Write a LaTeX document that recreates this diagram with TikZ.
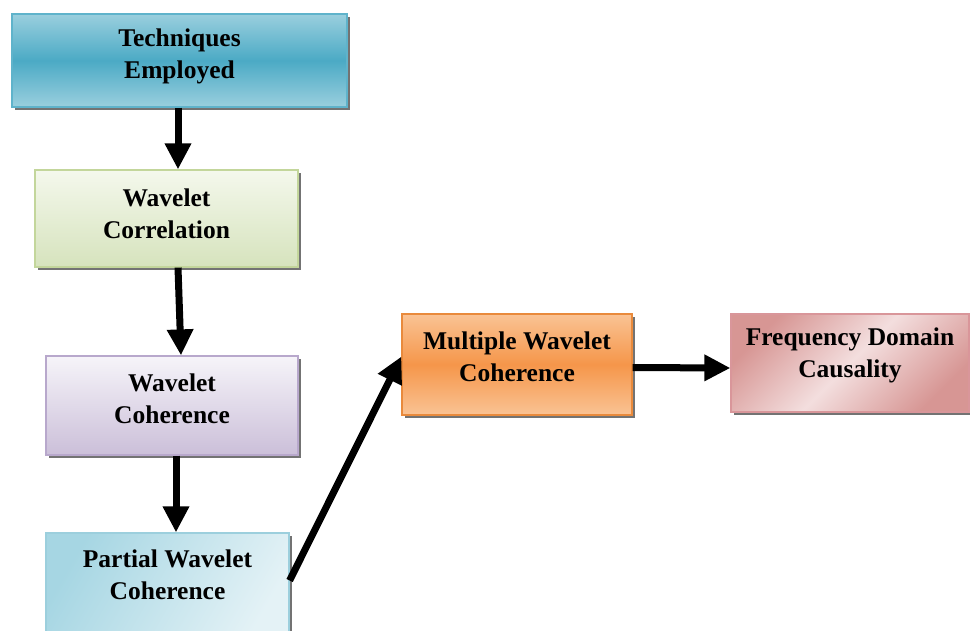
\documentclass[tikz,border=0pt]{standalone}
\usepackage{fontspec}
\setmainfont{Liberation Serif}
\usetikzlibrary{arrows.meta,shadows}
\definecolor{blueA}{HTML}{9ACFDE}
\definecolor{blueB}{HTML}{4BAAC5}
\definecolor{blueE}{HTML}{5FB3CB}
\definecolor{greenA}{HTML}{F4F8EC}
\definecolor{greenB}{HTML}{D6E3BD}
\definecolor{greenE}{HTML}{C3D69B}
\definecolor{lavA}{HTML}{F6F4F9}
\definecolor{lavB}{HTML}{CBBFD9}
\definecolor{lavE}{HTML}{B8A8CC}
\definecolor{cyanA}{HTML}{A6D6E3}
\definecolor{cyanB}{HTML}{E4F2F6}
\definecolor{cyanE}{HTML}{9CCFDD}
\definecolor{orA}{HTML}{FAC394}
\definecolor{orB}{HTML}{F5964A}
\definecolor{orE}{HTML}{E98A3C}
\definecolor{pkA}{HTML}{D79694}
\definecolor{pkB}{HTML}{F3DEDE}
\definecolor{pkE}{HTML}{D9969A}
\tikzset{
  box/.style={draw, line width=1.2pt, inner sep=0pt,
    drop shadow={shadow xshift=2.5pt, shadow yshift=-2.5pt, fill=black!55, opacity=1}},
  lbl/.style={font=\fontsize{25.5}{32}\selectfont\bfseries, align=center, inner sep=0pt},
  arr/.style={line width=7pt, -{Triangle[length=26pt,width=25pt]}}
}
\begin{document}
\begin{tikzpicture}[x=1pt,y=-1pt]
\useasboundingbox (0,0) rectangle (970,630);
% boxes
\node[box, draw=blueE, top color=blueA, bottom color=blueA, middle color=blueB,
  minimum width=335pt, minimum height=93pt] (b1) at (179.5,60.5) {};
\node[box, draw=greenE, top color=greenA, bottom color=greenB,
  minimum width=263pt, minimum height=97pt] (b2) at (166.5,218.5) {};
\node[box, draw=lavE, top color=lavA, bottom color=lavB,
  minimum width=252pt, minimum height=99pt] (b3) at (172,405.5) {};
\node[box, draw=cyanE, left color=cyanA, right color=cyanB, shading angle=60,
  minimum width=243pt, minimum height=107pt] (b4) at (167.5,586.5) {};
\node[box, draw=orE, top color=orA, bottom color=orA, middle color=orB,
  minimum width=230pt, minimum height=101pt] (b5) at (517,364.5) {};
\node[box, draw=pkE, top color=pkA, bottom color=pkA, middle color=pkB, shading angle=45,
  minimum width=238pt, minimum height=98pt] (b6) at (850,363) {};
% labels
\node[lbl] (t1) at (179.5,56) {Techniques\\Employed};
\node[lbl] (t2) at (166.5,214) {Wavelet\\Correlation};
\node[lbl] (t3) at (172,399) {Wavelet\\Coherence};
\node[lbl] (t4) at (167.5,575) {Partial Wavelet\\Coherence};
\node[lbl] (t5) at (517,357) {Multiple Wavelet\\Coherence};
\node[lbl] (t6) at (850,355) {Frequency Domain\\Causality};
% arrows
\draw[arr] ([xshift=-1.5pt]b1.south) -- ([xshift=11.5pt]b2.north);
\draw[arr] ([xshift=11.5pt]b2.south) -- ([xshift=9pt]b3.north);
\draw[arr] ([xshift=4pt]b3.south) -- ([xshift=8.5pt]b4.north);
\draw[arr] ([yshift=6pt]b4.east) -- ([yshift=8pt]b5.west);
\draw[arr] ([yshift=-3pt]b5.east) -- ([yshift=-5pt]b6.west);
\end{tikzpicture}
\end{document}
